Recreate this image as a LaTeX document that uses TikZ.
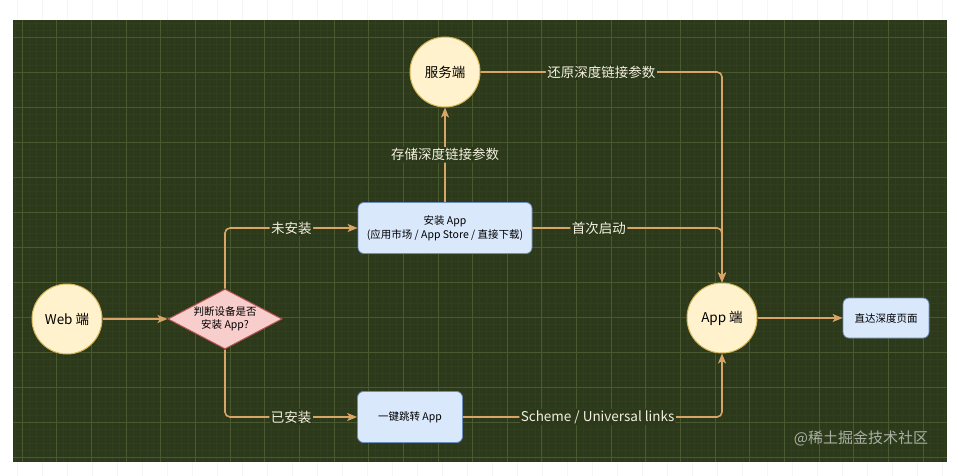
\documentclass[tikz,border=0pt]{standalone}
\usepackage{fontspec}
\setmainfont{Noto Sans CJK SC}
\usetikzlibrary{shapes.geometric, arrows.meta, positioning}

\definecolor{boardbg}{HTML}{2C3A1B}
\definecolor{gridmajor}{HTML}{4A5A30}
\definecolor{gridminor}{HTML}{323F1E}
\definecolor{linkline}{HTML}{D9A566}
\definecolor{tagtext}{HTML}{F4F0DE}
\definecolor{endfill}{HTML}{FFF2CC}
\definecolor{enddraw}{HTML}{D6B656}
\definecolor{stepfill}{HTML}{DAE8FC}
\definecolor{stepdraw}{HTML}{6C8EBF}
\definecolor{askfill}{HTML}{F8CECC}
\definecolor{askdraw}{HTML}{B85450}

\tikzset{
  endpoint/.style={circle, draw=enddraw, fill=endfill, line width=1pt,
    minimum size=70pt, inner sep=0pt, font=\fontsize{13.5}{16}\selectfont},
  stepbox/.style={rectangle, rounded corners=6pt, draw=stepdraw, fill=stepfill,
    line width=0.8pt, align=center, font=\fontsize{10.5}{14}\selectfont},
  askbox/.style={diamond, aspect=1.9, draw=askdraw, fill=askfill, line width=1pt,
    inner sep=0pt, minimum width=114pt, minimum height=60pt, align=center,
    font=\fontsize{10.5}{13}\selectfont},
  flow/.style={draw=linkline, line width=1.6pt, rounded corners=5pt,
    -{Stealth[length=10pt,width=8pt,inset=2.5pt]}},
  tag/.style={fill=boardbg, text=tagtext, inner sep=1.5pt,
    font=\fontsize{13.5}{16}\selectfont}
}

\begin{document}
\begin{tikzpicture}[x=1pt, y=-1pt]
  \useasboundingbox (0,0) rectangle (953,476);
  % page and board
  \fill[white] (0,0) rectangle (953,476);
  \foreach \i in {0,...,37}
    \draw[black!4, line width=0.5pt] ({17+25*\i},0) -- ++(0,476);
  \begin{scope}
    \clip (13,20) rectangle (947,462);
    \fill[boardbg] (13,20) rectangle (947,462);
    \foreach \i in {-3,...,135}
      \draw[gridminor, line width=0.4pt] ({22+6.93*\i},20) -- ++(0,442);
    \foreach \i in {-5,...,65}
      \draw[gridminor, line width=0.4pt] (13,{37+7*\i}) -- ++(934,0);
    \foreach \i in {0,...,27}
      \draw[gridmajor, line width=0.6pt] ({22+34.65*\i},20) -- ++(0,442);
    \foreach \i in {-1,...,13}
      \draw[gridmajor, line width=0.6pt] (13,{37+35*\i}) -- ++(934,0);
  \end{scope}

  % nodes
  \node[endpoint] (web) at (67,319) {Web 端};
  \node[askbox] (ask) at (225,319) {判断设备是否\\安装 App?};
  \node[stepbox, minimum width=174pt, minimum height=51pt] (install) at (445,228)
    {安装 App\\(应用市场 / App Store / 直接下载)};
  \node[stepbox, minimum width=105pt, minimum height=51pt] (jump) at (410,417) {一键跳转 App};
  \node[endpoint] (server) at (445,72) {服务端};
  \node[endpoint] (app) at (722,318) {App 端};
  \node[stepbox, minimum width=86pt, minimum height=40pt] (direct) at (886,318) {直达深度页面};

  % connectors
  \draw[flow] (web) -- (ask);
  \draw[flow] (ask.north) |- (install.west) node[tag, pos=0.75] {未安装};
  \draw[flow] (ask.south) |- (jump.west) node[tag, pos=0.75] {已安装};
  \draw[flow] (install) -- (server) node[tag, midway] {存储深度链接参数};
  \draw[flow] (server) -| (app.north) node[tag, pos=0.25] {还原深度链接参数};
  \draw[flow] (install) -| (app.north) node[tag, pos=0.175] {首次启动};
  \draw[flow] (jump) -| (app.south) node[tag, pos=0.26] {Scheme / Universal links};
  \draw[flow] (app) -- (direct);

  \node[text=white!60!boardbg, font=\fontsize{15}{18}\selectfont] (mark) at (861,438) {@稀土掘金技术社区};
\end{tikzpicture}
\end{document}
